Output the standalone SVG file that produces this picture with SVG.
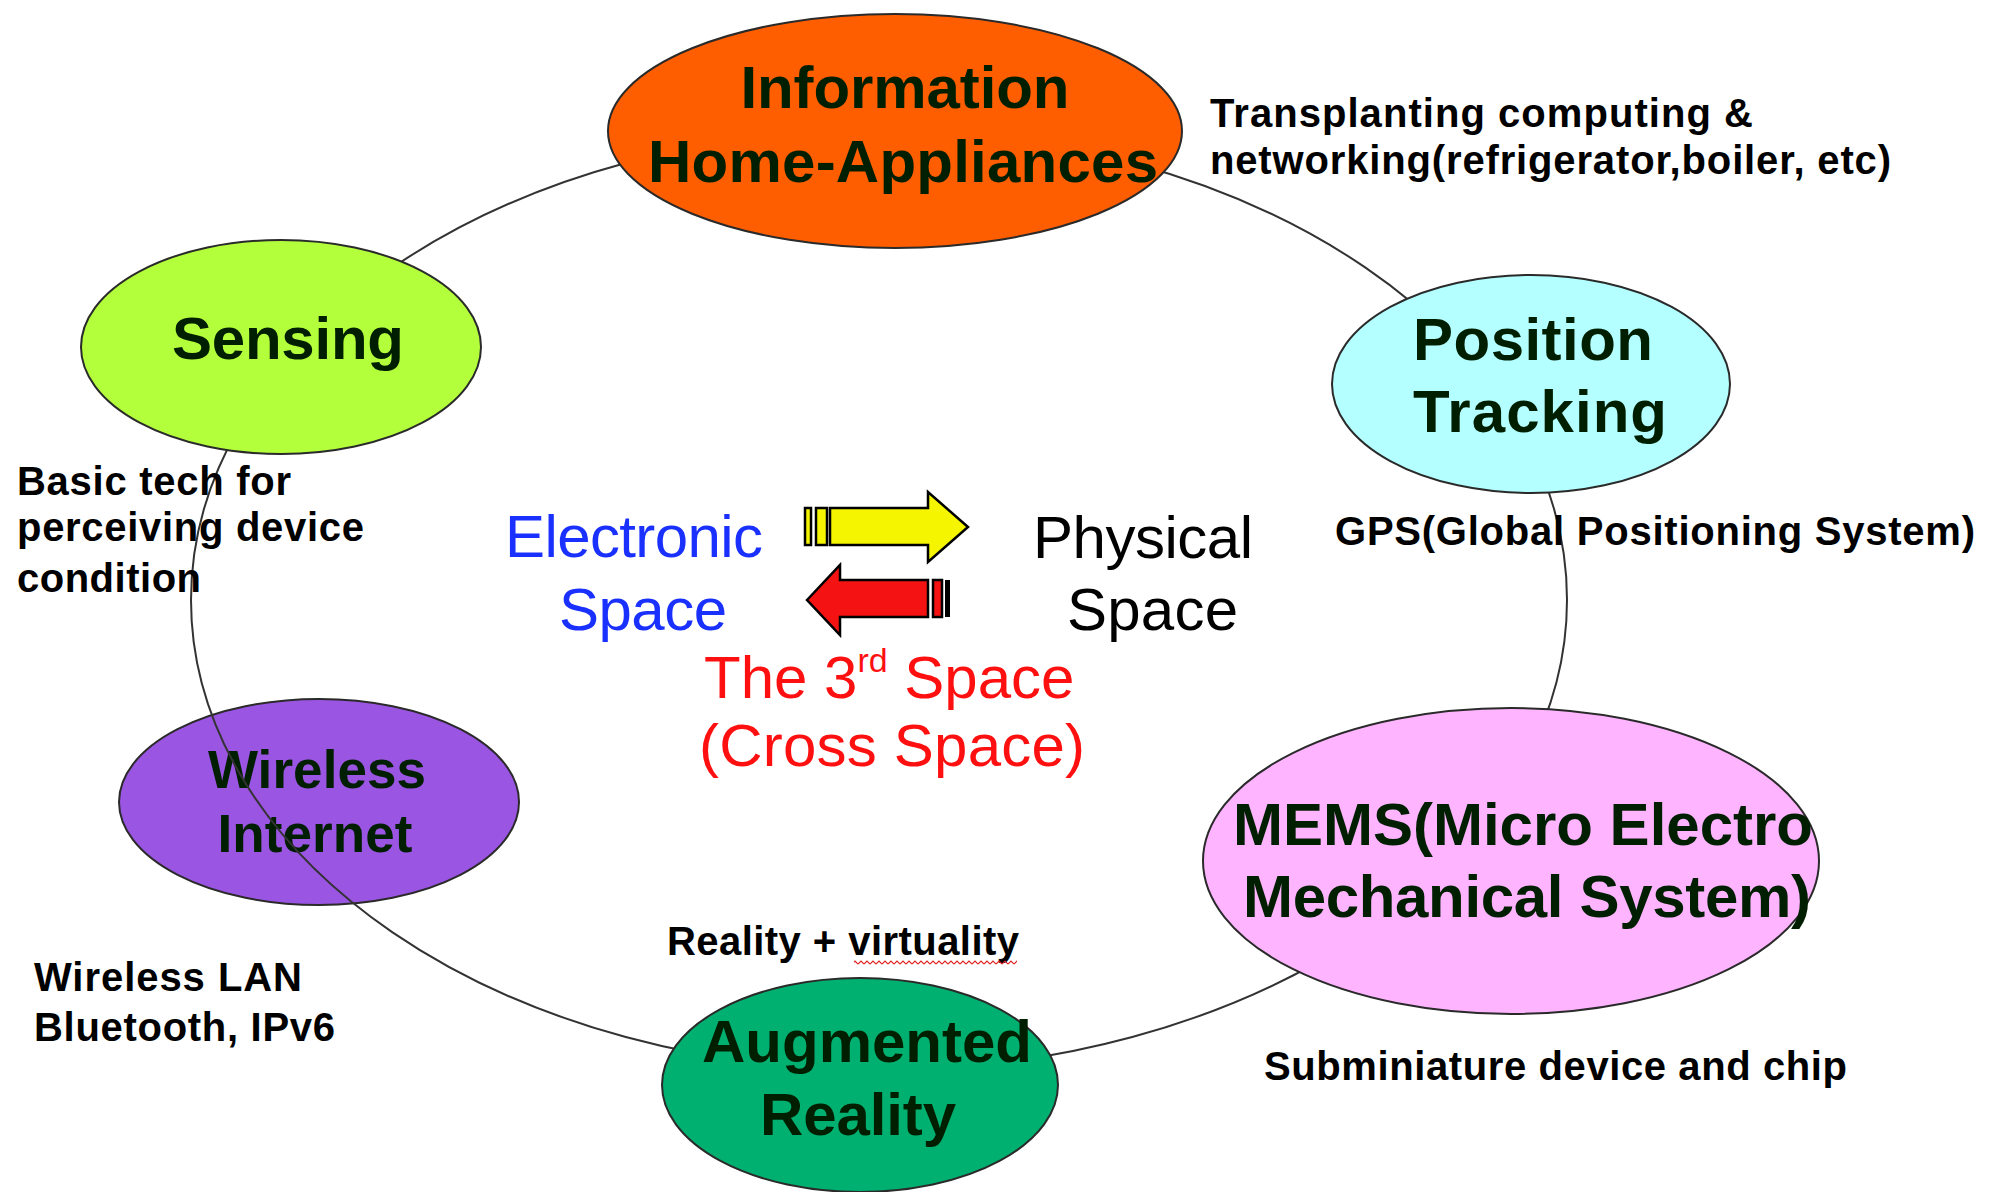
<svg xmlns="http://www.w3.org/2000/svg" width="1997" height="1192" viewBox="0 0 1997 1192">
  <defs>
    <style>
      .node { stroke: #2a2a2a; stroke-width: 2; }
      .label { font-family: "Liberation Sans", Arial, sans-serif; font-weight: bold; font-size: 60px; fill: #001e00; text-anchor: middle; }
      .label.small { font-size: 53px; }
      .note { font-family: "Liberation Sans", Arial, sans-serif; font-weight: bold; font-size: 40px; fill: #000; }
      .space { font-family: "Liberation Sans", Arial, sans-serif; font-size: 60px; }
      .ring { fill: none; stroke: #333; stroke-width: 2; }
      .arrow { stroke: #000; stroke-width: 2.5; stroke-linejoin: miter; }
    </style>
    <pattern id="squiggle" x="0" y="0" width="6" height="5" patternUnits="userSpaceOnUse">
      <polyline points="0,4 3,1 6,4" fill="none" stroke="#e02020" stroke-width="1.2"/>
    </pattern>
  </defs>

  <rect width="1997" height="1192" fill="#fff"/>

  <!-- Wireless Internet sits under the ring line -->
  <g id="wireless-internet">
    <ellipse class="node" cx="319" cy="802" rx="200" ry="103" fill="#9b55e3"/>
    <text class="label small" x="317" y="788" textLength="218">Wireless</text>
    <text class="label small" x="315" y="852" textLength="195">Internet</text>
  </g>

  <!-- ring joining the technologies -->
  <g id="connectors">
    <ellipse class="ring" cx="879" cy="600" rx="688" ry="470"/>
  </g>

  <g id="information-home-appliances">
    <ellipse class="node" cx="895" cy="131" rx="287" ry="117" fill="#ff5e00"/>
    <text class="label" x="905" y="108" textLength="329">Information</text>
    <text class="label" x="903" y="182" textLength="510">Home-Appliances</text>
  </g>

  <g id="sensing">
    <ellipse class="node" cx="281" cy="347" rx="200" ry="107" fill="#b4ff3c"/>
    <text class="label" x="288" y="359" textLength="232">Sensing</text>
  </g>

  <g id="position-tracking">
    <ellipse class="node" cx="1531" cy="384" rx="199" ry="109" fill="#b4ffff"/>
    <text class="label" x="1413" y="360" textLength="240" style="text-anchor:start">Position</text>
    <text class="label" x="1413" y="432" textLength="254" style="text-anchor:start">Tracking</text>
  </g>

  <g id="mems">
    <ellipse class="node" cx="1511" cy="861" rx="308" ry="153" fill="#ffb4ff"/>
    <text class="label" x="1233" y="845" textLength="580" style="text-anchor:start">MEMS(Micro Electro</text>
    <text class="label" x="1243" y="917" textLength="568" style="text-anchor:start">Mechanical System)</text>
  </g>

  <g id="augmented-reality">
    <ellipse class="node" cx="860" cy="1085" rx="198" ry="107" fill="#00b070"/>
    <text class="label" x="867" y="1062" textLength="330">Augmented</text>
    <text class="label" x="858" y="1135" textLength="196">Reality</text>
  </g>

  <!-- notes beside the technologies -->
  <g id="notes">
    <text class="note" x="1210" y="127" textLength="543">Transplanting computing &amp;</text>
    <text class="note" x="1210" y="174" textLength="681">networking(refrigerator,boiler, etc)</text>
    <text class="note" x="1335" y="545" textLength="640">GPS(Global Positioning System)</text>
    <text class="note" x="17" y="495" textLength="274">Basic tech for</text>
    <text class="note" x="17" y="541" textLength="347">perceiving device</text>
    <text class="note" x="17" y="592" textLength="184">condition</text>
    <text class="note" x="34" y="991" textLength="268">Wireless LAN</text>
    <text class="note" x="34" y="1041" textLength="301">Bluetooth, IPv6</text>
    <text class="note" x="667" y="955" textLength="352">Reality + virtuality</text>
    <rect x="854" y="960" width="163" height="5" fill="url(#squiggle)"/>
    <text class="note" x="1264" y="1080" textLength="583">Subminiature device and chip</text>
  </g>

  <!-- centre: the two spaces and the arrows between them -->
  <g id="spaces">
    <text class="space" x="505" y="557" fill="#1a30ff" textLength="258">Electronic</text>
    <text class="space" x="559" y="630" fill="#1a30ff" textLength="168">Space</text>
    <text class="space" x="1033" y="558" fill="#000" textLength="220">Physical</text>
    <text class="space" x="1067" y="630" fill="#000" textLength="171">Space</text>
    <text class="space" x="704" y="698" fill="#ff1010">The 3<tspan font-size="34" dy="-26">rd</tspan><tspan dy="26"> Space</tspan></text>
    <text class="space" x="699" y="766" fill="#ff1010" textLength="386">(Cross Space)</text>
  </g>

  <g id="arrow-to-physical">
    <rect class="arrow" x="805" y="508" width="6" height="37" fill="#f5f500"/>
    <rect class="arrow" x="816" y="508" width="11" height="37" fill="#f5f500"/>
    <polygon class="arrow" points="830,508 928,508 928,492 968,527 928,562 928,545 830,545" fill="#f5f500"/>
  </g>

  <g id="arrow-to-electronic">
    <polygon class="arrow" points="807,600 840,565 840,580 928,580 928,617 840,617 840,635" fill="#f51212"/>
    <rect class="arrow" x="933" y="580" width="9" height="37" fill="#f51212"/>
    <rect x="945" y="580" width="5" height="37" fill="#000"/>
  </g>
</svg>
